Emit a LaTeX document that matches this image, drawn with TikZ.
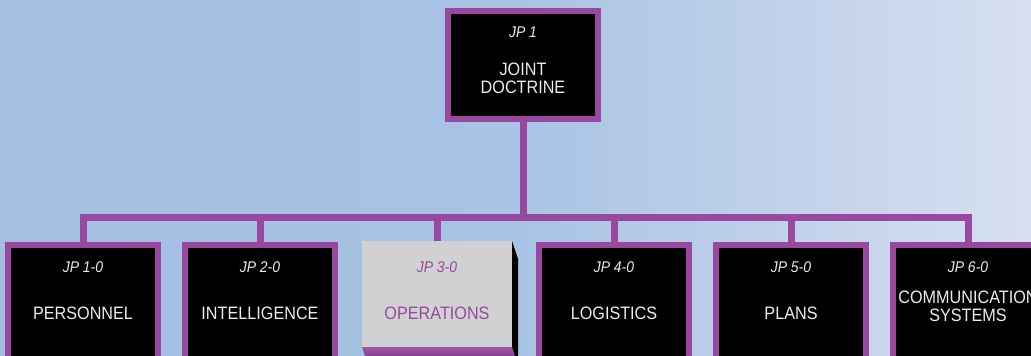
\documentclass[tikz,border=0pt]{standalone}
\usepackage{fontspec}
\setmainfont{Liberation Sans}[FakeStretch=0.9]
\usepackage{tikz}
\usetikzlibrary{positioning}
\usetikzlibrary{calc}
\definecolor{jppurple}{RGB}{152,72,158}
\definecolor{opsgrey}{RGB}{209,209,211}
\definecolor{bgleft}{RGB}{163,191,226}
\definecolor{bgmid}{RGB}{168,195,228}
\definecolor{bgright}{RGB}{215,223,241}
\definecolor{titlegrey}{RGB}{236,236,236}
\definecolor{bevelhi}{RGB}{158,86,166}
\definecolor{bevello}{RGB}{112,42,122}

\tikzset{
	pubbox/.style={draw=jppurple, line width=6pt, fill=black, minimum width=150pt, minimum height=126pt, inner sep=0pt},
	topbox/.style={pubbox, minimum height=108pt},
	opsbox/.style={fill=opsgrey, minimum width=150pt, minimum height=106pt, inner sep=0pt, outer sep=0pt},
	jptext/.style={font=\fontsize{15.5}{17}\selectfont\itshape, text=titlegrey, inner sep=0pt},
	titletext/.style={font=\fontsize{18}{18}\selectfont, text=titlegrey, align=center, inner sep=0pt},
	link/.style={draw=jppurple, line width=7pt}
}

\begin{document}
\begin{tikzpicture}[x=1pt,y=-1pt]
	\useasboundingbox (0,0) rectangle (1031,356);
	\clip (0,0) rectangle (1031,356);
	\shade[left color=bgleft, right color=bgright, middle color=bgmid] (0,0) rectangle (1031,356);

	% Level 1
	\node [topbox] at (523,65) (jp1) {};
	\node [jptext] at ([yshift=-24pt]jp1.north) (jp1num) {JP 1};
	\node [titletext] at ([yshift=-70pt]jp1.north) (jp1name) {JOINT\\DOCTRINE};

	% Level 2
	\node [pubbox] at (83,308) (jp10) {};
	\node [pubbox, right=21pt of jp10] (jp20) {};
	\node [opsbox, right=24pt of jp20, yshift=14pt] (jp30) {};
	\node [pubbox, right=24pt of jp30, yshift=-14pt] (jp40) {};
	\node [pubbox, right=21pt of jp40] (jp50) {};
	\node [pubbox, right=21pt of jp50] (jp60) {};

	% Bevel of the highlighted box
	\fill [black] (jp30.north east) -- ++(6,18) -- ++(0,100) -- ++(-6,0) -- cycle;
	\shade [top color=bevelhi, bottom color=bevello] (jp30.south west) -- (jp30.south east) -- ++(6,18) -- ($(jp30.south west)+(6,18)$) -- cycle;

	% Level 2 texts
	\node [jptext] at ([yshift=-25pt]jp10.north) (jp10num) {JP 1-0};
	\node [titletext] at ([yshift=-71pt]jp10.north) (jp10name) {PERSONNEL};
	\node [jptext] at ([yshift=-25pt]jp20.north) (jp20num) {JP 2-0};
	\node [titletext] at ([yshift=-71pt]jp20.north) (jp20name) {INTELLIGENCE};
	\node [jptext, text=jppurple] at ([yshift=-26pt]jp30.north) (jp30num) {JP 3-0};
	\node [titletext, text=jppurple] at ([yshift=-72pt]jp30.north) (jp30name) {OPERATIONS};
	\node [jptext] at ([yshift=-25pt]jp40.north) (jp40num) {JP 4-0};
	\node [titletext] at ([yshift=-71pt]jp40.north) (jp40name) {LOGISTICS};
	\node [jptext] at ([yshift=-25pt]jp50.north) (jp50num) {JP 5-0};
	\node [titletext] at ([yshift=-71pt]jp50.north) (jp50name) {PLANS};
	\node [jptext] at ([yshift=-25pt]jp60.north) (jp60num) {JP 6-0};
	\node [titletext] at ([yshift=-64pt]jp60.north) (jp60name) {COMMUNICATION\\SYSTEMS};

	% Connections
	\coordinate (bar) at (523,217);
	\draw [link] (jp1.south) -- (bar);
	\draw [link] (jp10.north) |- (bar) -| (jp60.north);
	\draw [link] (jp20.north) -- (jp20.north |- bar);
	\draw [link] (jp30.north) -- (jp30.north |- bar);
	\draw [link] (jp40.north) -- (jp40.north |- bar);
	\draw [link] (jp50.north) -- (jp50.north |- bar);

\end{tikzpicture}
\end{document}
